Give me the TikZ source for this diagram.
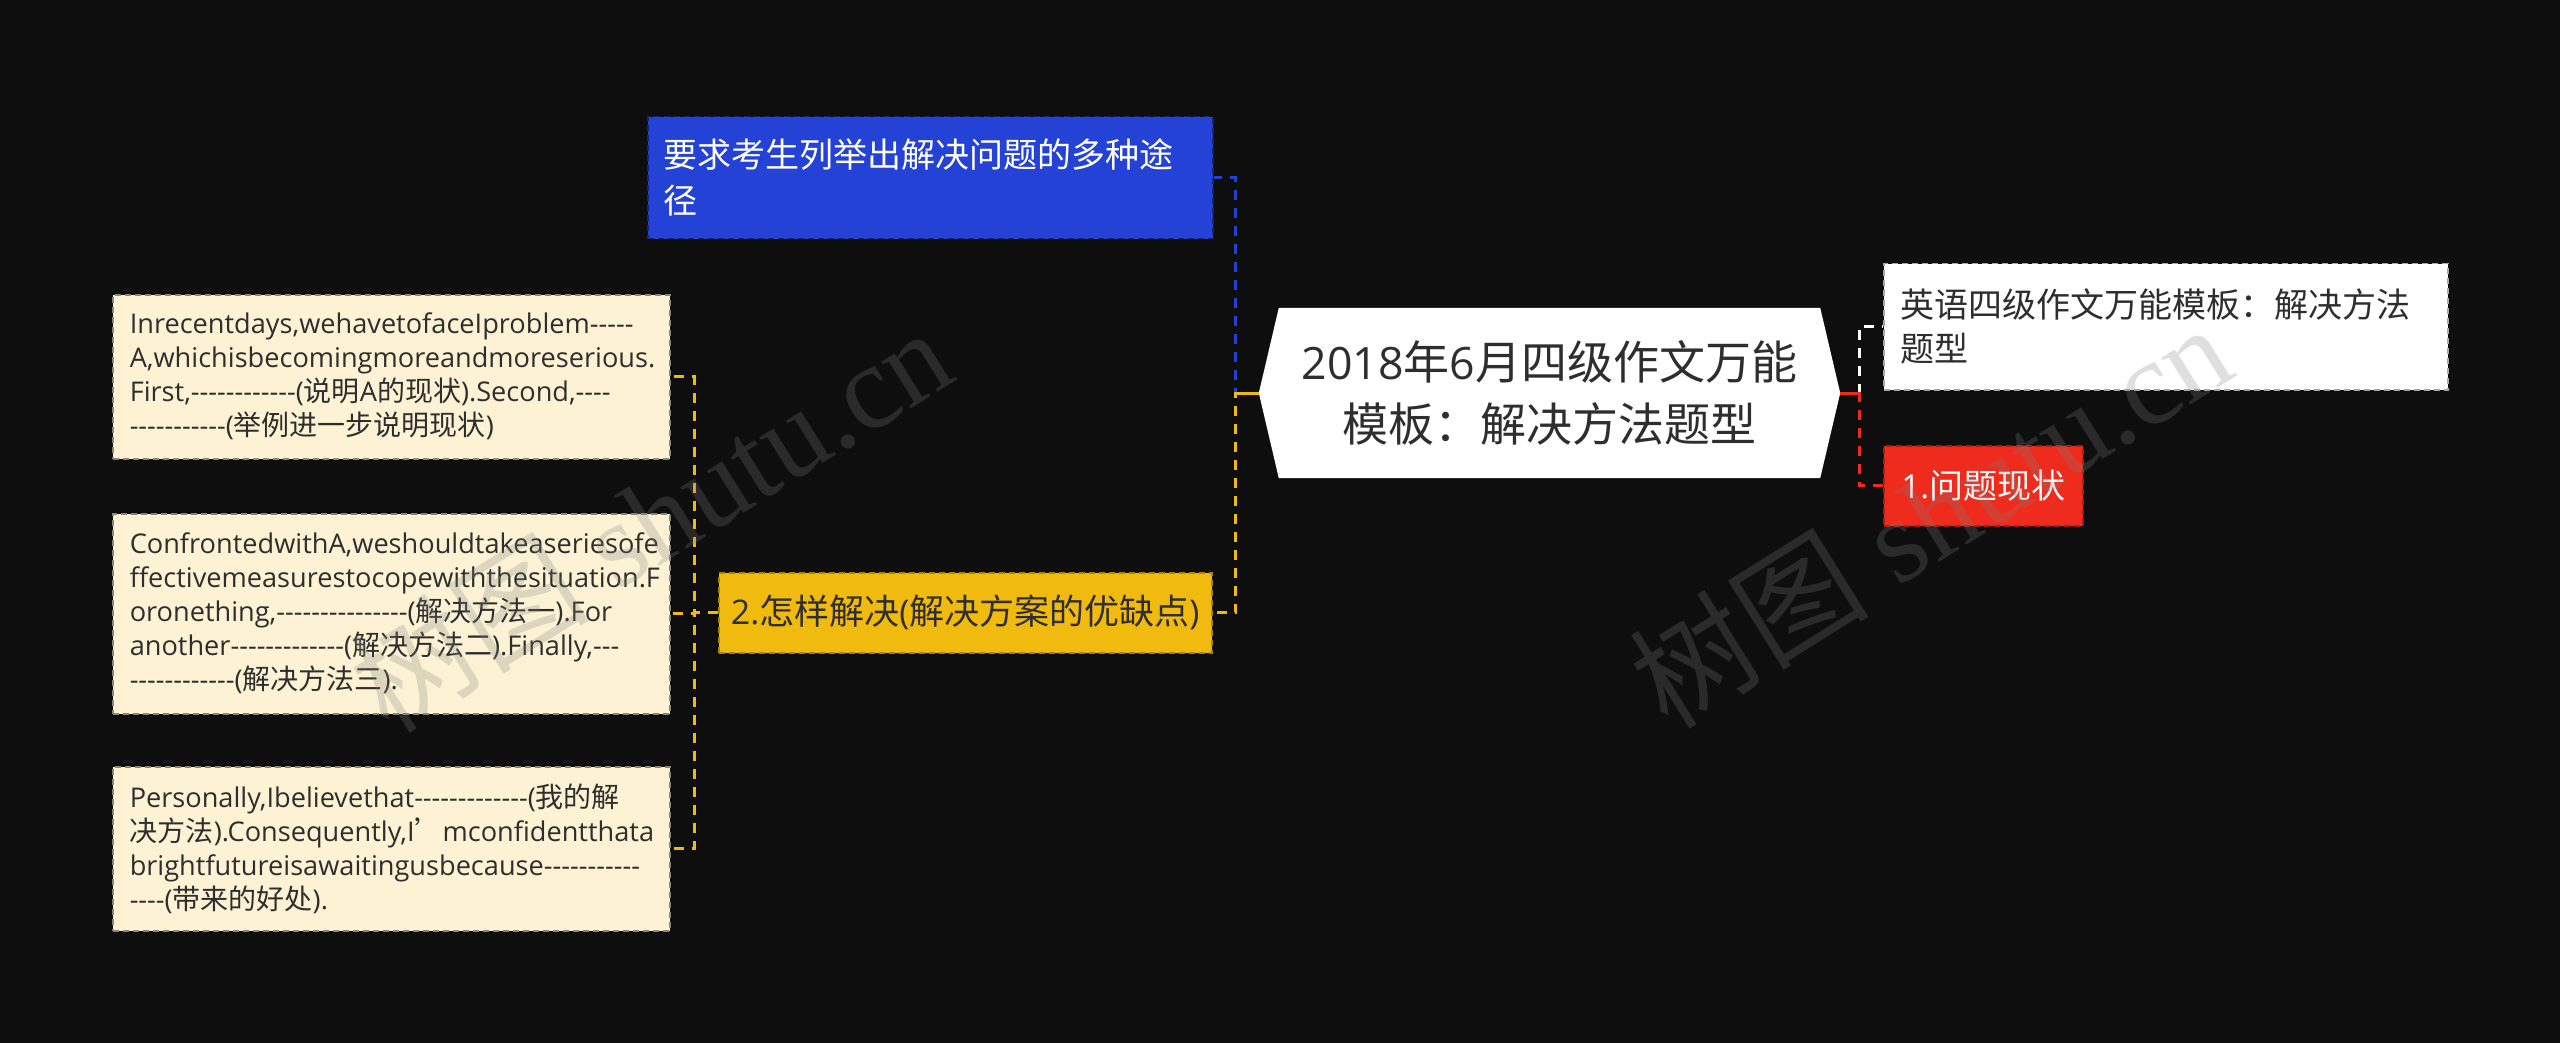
\documentclass[tikz,border=0pt]{standalone}
\usepackage{fontspec}
\usetikzlibrary{calc}
\newfontfamily\latinfont{Open Sans}[Scale=0.97]
\newfontfamily\cjkfont{Noto Sans CJK SC}
\newfontfamily\wmserif{Liberation Serif}
\XeTeXinterchartokenstate=1
\newXeTeXintercharclass\cjkclass
\newcount\cjkcnt
\cjkcnt="4E00 \loop\XeTeXcharclass\cjkcnt=\cjkclass \ifnum\cjkcnt<"9FFF \advance\cjkcnt by 1 \repeat
\cjkcnt="3000 \loop\XeTeXcharclass\cjkcnt=\cjkclass \ifnum\cjkcnt<"303F \advance\cjkcnt by 1 \repeat
\cjkcnt="FF00 \loop\XeTeXcharclass\cjkcnt=\cjkclass \ifnum\cjkcnt<"FFEF \advance\cjkcnt by 1 \repeat
\XeTeXcharclass"2019=\cjkclass
\XeTeXinterchartoks 0 \cjkclass={\begingroup\cjkfont}
\XeTeXinterchartoks 4095 \cjkclass={\begingroup\cjkfont}
\XeTeXinterchartoks \cjkclass 0={\endgroup}
\XeTeXinterchartoks \cjkclass 4095={\endgroup}
\pgfdeclarelayer{back}
\pgfdeclarelayer{mid}
\pgfsetlayers{back,mid,main}
\definecolor{bgc}{HTML}{0E0E0E}
\definecolor{bluec}{HTML}{2542D6}
\definecolor{yellowc}{HTML}{F1BA0E}
\definecolor{redc}{HTML}{EE2B1C}
\definecolor{beigec}{HTML}{FDF3D4}
\definecolor{txt}{HTML}{2E2E2E}
\tikzset{
  boxbase/.style={anchor=north west, dash pattern=on 6pt off 4pt, line width=1.5pt, inner ysep=0pt},
  beigebox/.style={boxbase, fill=beigec, draw=beigec!55!black, text=txt, align=left,
    font=\latinfont\fontsize{28}{34}\selectfont, inner xsep=17pt, minimum width=557pt, text width=523pt},
  bluebox/.style={boxbase, fill=bluec, draw=bluec!55!black, text=white, align=left,
    font=\latinfont\fontsize{34}{46}\selectfont, inner xsep=16pt, minimum width=565pt, text width=533pt, minimum height=122pt},
  whitebox/.style={boxbase, fill=white, draw=gray!70, text=txt, align=left,
    font=\latinfont\fontsize{34}{44}\selectfont, inner xsep=17pt, minimum width=564pt, text width=530pt, minimum height=126pt},
  redbox/.style={boxbase, fill=redc, draw=redc!70!black, text=white, align=center,
    font=\latinfont\fontsize{34}{44}\selectfont, inner xsep=0pt, minimum width=199pt, text width=199pt, minimum height=80pt},
  yellowbox/.style={boxbase, fill=yellowc, draw=yellowc!70!black, text=txt, align=center,
    font=\latinfont\fontsize{35}{44}\selectfont, inner xsep=0pt, minimum width=493pt, text width=493pt, minimum height=80pt},
  ctrnode/.style={inner sep=0pt, text=txt, align=center, font=\latinfont\fontsize{46}{62}\selectfont,
    minimum width=581pt, minimum height=170pt},
  conn/.style={line width=3pt, dash pattern=on 10pt off 8pt},
  stub/.style={line width=3pt},
  wm/.style={text=gray, text opacity=0.25, font=\wmserif\fontsize{120}{120}\selectfont, inner sep=0pt}
}
\begin{document}
\begin{tikzpicture}[x=1pt,y=-1pt]
\begin{pgfonlayer}{back}
\fill[bgc] (0,0) rectangle (2560,1043);
\end{pgfonlayer}
\useasboundingbox (0,0) rectangle (2560,1043);

\node[ctrnode] (ctr) at (1549.5,393) {2018年6月四级作文万能\\模板：解决方法题型};
\begin{pgfonlayer}{mid}
\fill[white] (ctr.west) -- ([xshift=20pt]ctr.north west) -- ([xshift=-20pt]ctr.north east) -- (ctr.east)
  -- ([xshift=-20pt]ctr.south east) -- ([xshift=20pt]ctr.south west) -- cycle;
\end{pgfonlayer}

\node[bluebox] (blu) at (647,116) {要求考生列举出解决问题的多种途\\径};
\node[yellowbox] (yel) at (718,572) {2.怎样解决(解决方案的优缺点)};
\node[whitebox] (wht) at (1883,263) {英语四级作文万能模板：解决方法\\题型};
\node[redbox] (red) at (1883,445) {1.问题现状};

\node[beigebox, minimum height=164pt] (b1) at (112,294) {Inrecentdays,wehavetofaceIproblem-----\\A,whichisbecomingmoreandmoreserious.\\First,------------(说明A的现状).Second,----\\-----------(举例进一步说明现状)};
\node[beigebox, minimum height=200pt] (b2) at (112,513) {ConfrontedwithA,weshouldtakeaseriesofe\\ffectivemeasurestocopewiththesituation.F\\oronething,---------------(解决方法一).For\\another-------------(解决方法二).Finally,---\\------------(解决方法三).};
\node[beigebox, minimum height=164pt] (b3) at (112,766) {Personally,Ibelievethat-------------(我的解\\决方法).Consequently,I’mconfidentthata\\brightfutureisawaitingusbecause-----------\\----(带来的好处).};

% connectors
\draw[conn, bluec] (ctr.west) -- ++(-23,0) |- (blu.east);
\draw[conn, yellowc] (ctr.west) -- ++(-23,0) |- (yel.east);
\draw[stub, yellowc] (ctr.west) -- ++(-23,0);
\draw[conn, white] (ctr.east) -- ++(19,0) |- (wht.west);
\draw[conn, redc] (ctr.east) -- ++(19,0) |- (red.west);
\draw[stub, redc] (ctr.east) -- ++(19,0);
\draw[conn, yellowc] (yel.west) -- ++(-24,0) |- (b1.east);
\draw[conn, yellowc] (yel.west) -- ++(-24,0) |- (b2.east);
\draw[conn, yellowc] (yel.west) -- ++(-24,0) |- (b3.east);

% watermarks
\node[wm, rotate=32] (wm1) at (650,518) {树图 shutu.cn};
\node[wm, rotate=32] (wm2) at (1930,514) {树图 shutu.cn};
\end{tikzpicture}
\end{document}
